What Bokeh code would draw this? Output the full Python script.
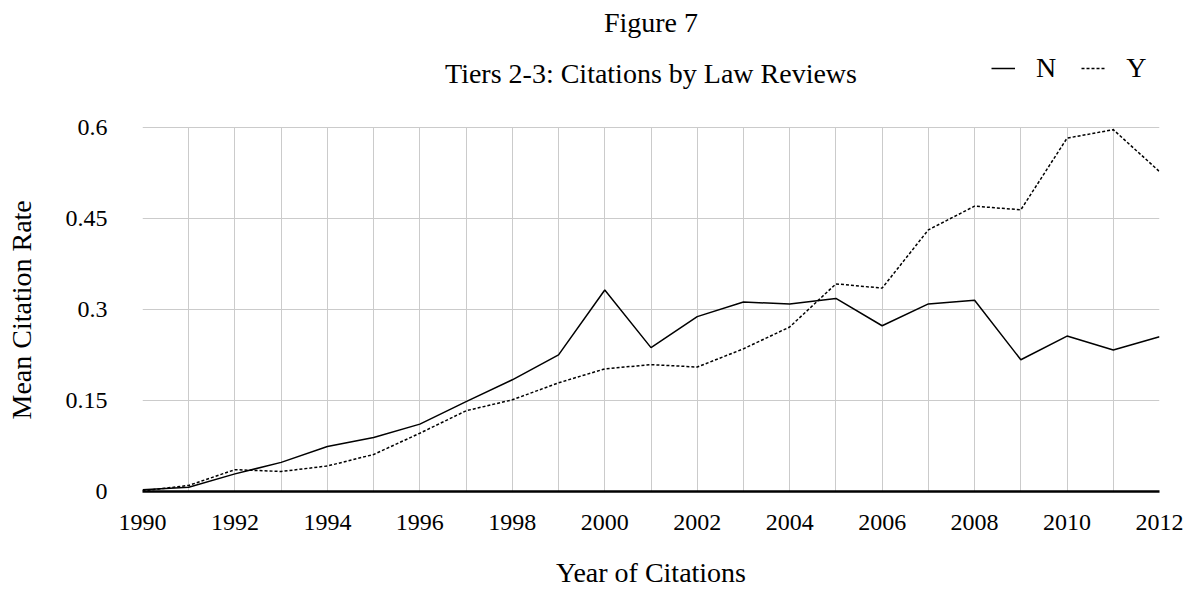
from bokeh.plotting import figure
from bokeh.models import Range1d, FixedTicker, Legend, LegendItem, Label, Title
from bokeh.embed import file_html
from bokeh.resources import INLINE

# ---- data ----
years = list(range(1990, 2013))
series_n = [0.003, 0.007, 0.029, 0.048, 0.074, 0.089, 0.111, 0.148, 0.184, 0.225,
            0.332, 0.237, 0.288, 0.312, 0.309, 0.318, 0.273, 0.309, 0.315, 0.217,
            0.256, 0.233, 0.255]
series_y = [0.001, 0.010, 0.036, 0.033, 0.042, 0.061, 0.096, 0.133, 0.151, 0.179,
            0.202, 0.209, 0.205, 0.235, 0.271, 0.342, 0.335, 0.431, 0.470, 0.464,
            0.582, 0.596, 0.527]
x_ticks = [1990, 1992, 1994, 1996, 1998, 2000, 2002, 2004, 2006, 2008, 2010, 2012]
x_tick_labels = ["1990", "1992", "1994", "1996", "1998", "2000", "2002", "2004",
                 "2006", "2008", "2010", "2012"]
y_ticks = [0, 0.15, 0.3, 0.45, 0.6]
y_tick_labels = ["0", "0.15", "0.3", "0.45", "0.6"]
title_text = "Figure 7"
subtitle_text = "Tiers 2-3: Citations by Law Reviews"
x_label = "Year of Citations"
y_label = "Mean Citation Rate"

FONT = "Liberation Serif"
GRID = "#cbcbcb"

# layout: the frame reaches the top of the canvas so that the headings and the
# legend can live inside it; the data area (0..0.6) spans 365 px of 492 px.
W, H = 1195, 590
LEFT, RIGHT, BOTTOM = 142, 36, 98
FRAME_H = H - BOTTOM
DATA_H = 365
y_top = y_ticks[-1] * FRAME_H / DATA_H

p = figure(width=W, height=H, output_backend="svg", toolbar_location=None,
           x_range=Range1d(years[0], years[-1]), y_range=Range1d(0, y_top),
           min_border_left=LEFT, min_border_right=RIGHT, min_border_top=0,
           min_border_bottom=BOTTOM)
p.background_fill_color = "white"
p.border_fill_color = "white"
p.outline_line_color = None

# lines
r_n = p.line(years, series_n, line_color="black", line_width=1.5)
r_y = p.line(years, series_y, line_color="black", line_width=1.5, line_dash="3 2")

legend = Legend(items=[LegendItem(label="N", renderers=[r_n]),
                       LegendItem(label="Y", renderers=[r_y])],
                location=(849, 407), orientation="horizontal",
                label_text_font=FONT, label_text_font_size="28px",
                label_text_color="black", glyph_width=24, glyph_height=20,
                label_standoff=21, spacing=25, padding=0, margin=0,
                border_line_color=None, background_fill_alpha=0)
p.add_layout(legend, "center")

frame_w = W - LEFT - RIGHT
for txt, base in ((title_text, 469), (subtitle_text, 418)):
    p.add_layout(Label(x=frame_w / 2, y=base, x_units="screen", y_units="screen",
                       text=txt, text_align="center", text_baseline="alphabetic",
                       text_font=FONT, text_font_size="28px", text_color="black"))

# axes
xa = p.xaxis[0]
xa.ticker = FixedTicker(ticks=x_ticks)
xa.major_label_overrides = dict(zip(x_ticks, x_tick_labels))
xa.axis_label = x_label
xa.axis_label_text_font = FONT
xa.axis_label_text_font_size = "28px"
xa.axis_label_text_font_style = "normal"
xa.axis_label_text_color = "black"
xa.axis_label_standoff = 24
xa.major_label_text_font = FONT
xa.major_label_text_font_size = "24px"
xa.major_label_text_color = "black"
xa.major_label_standoff = 23
xa.major_tick_line_color = None
xa.minor_tick_line_color = None
xa.major_tick_out = 0
xa.major_tick_in = 0
xa.axis_line_color = "black"
xa.axis_line_width = 2.5

ya = p.yaxis[0]
ya.bounds = (y_ticks[0], y_ticks[-1])
ya.ticker = FixedTicker(ticks=y_ticks)
ya.major_label_overrides = dict(zip(y_ticks, y_tick_labels))
# blank axis label only reserves room; the visible label is a side title that
# can be aligned with the 0..0.6 data area instead of the whole frame
ya.axis_label = " "
ya.axis_label_text_font = FONT
ya.axis_label_text_font_size = "20px"
ya.axis_label_standoff = 1
ya.major_label_text_font = FONT
ya.major_label_text_font_size = "24px"
ya.major_label_text_color = "black"
ya.major_label_standoff = 35
ya.major_tick_line_color = None
ya.minor_tick_line_color = None
ya.major_tick_out = 0
ya.major_tick_in = 0
ya.axis_line_color = None

p.add_layout(Title(text=y_label, align="left", offset=72, standoff=0,
                   vertical_align="bottom", text_font=FONT,
                   text_font_size="28px", text_font_style="normal",
                   text_color="black"), "left")

p.xgrid.ticker = FixedTicker(ticks=years)
p.xgrid.cross_bounds = (y_ticks[0], y_ticks[-1])
p.ygrid.ticker = FixedTicker(ticks=y_ticks)
p.xgrid.grid_line_color = GRID
p.ygrid.grid_line_color = GRID
p.xgrid.grid_line_width = 1
p.ygrid.grid_line_width = 1

open("out.html", "w").write(file_html(p, INLINE))
